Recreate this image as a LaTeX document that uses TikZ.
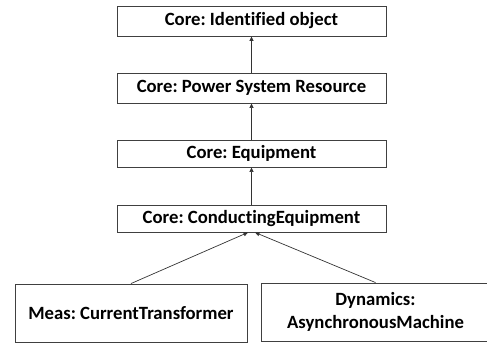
\documentclass[tikz,border=0pt]{standalone}
\usepackage{fontspec}
\setmainfont{Carlito}[Ligatures={NoCommon}]
\usetikzlibrary{arrows.meta}
\frenchspacing
\begin{document}
\begin{tikzpicture}[x=1pt,y=-1pt,
  classbox/.style={draw=black!75, line width=0.9pt, fill=white, inner sep=0pt,
    font=\bfseries\fontsize{18.7}{23.5}\selectfont, align=center, text=black},
  gen/.style={draw=black!80, line width=0.7pt, -{Triangle[length=4.5pt,width=4pt]}}]
  \useasboundingbox (0,0) rectangle (487,345);
  \clip (0,0) rectangle (487,345);
  % inheritance chain
  \node[classbox, minimum width=269pt, minimum height=30pt] (b1) at (251.5,21) {Core: Identified object};
  \node[classbox, minimum width=269pt, minimum height=30pt] (b2) at (251.5,88) {Core: Power System Resource};
  \node[classbox, minimum width=269pt, minimum height=27pt] (b3) at (251.5,153.5) {Core: Equipment};
  \node[classbox, minimum width=269pt, minimum height=27pt] (b4) at (251.5,218.5) {Core: ConductingEquipment};
  % subclasses
  \node[classbox, minimum width=232pt, minimum height=58pt] (b5) at (131,313) {Meas: CurrentTransformer};
  \node[classbox, minimum width=229pt, minimum height=58pt] (b6) at (375.5,312) {Dynamics:\\AsynchronousMachine};
  % generalisation arrows
  \draw[gen] (b2.north) -- (b1.south);
  \draw[gen] (b3.north) -- (b2.south);
  \draw[gen] (b4.north) -- (b3.south);
  \draw[gen] (b5.north) -- ([xshift=-3.5pt]b4.south);
  \draw[gen] (b6.north) -- ([xshift=3.5pt]b4.south);
\end{tikzpicture}
\end{document}
